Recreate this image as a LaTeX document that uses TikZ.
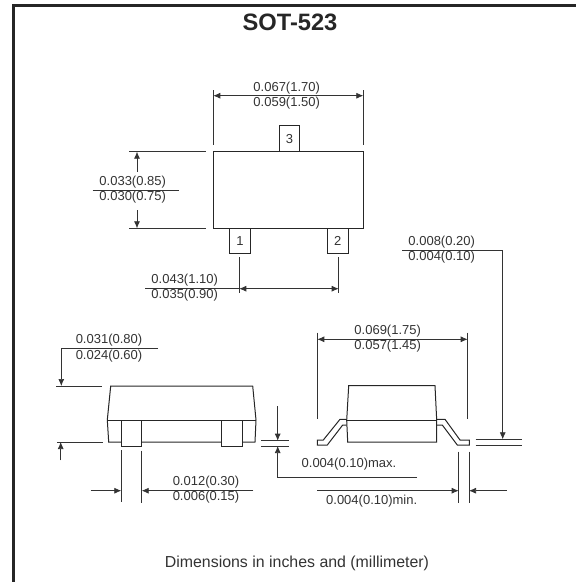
\documentclass[tikz,border=0pt]{standalone}
\usepackage{fontspec}
\setmainfont{Liberation Sans}
\usetikzlibrary{arrows.meta}
\usetikzlibrary{calc}
\tikzset{
	outline/.style={draw=black!85, line width=1pt},
	dimline/.style={draw=black!80, line width=0.7pt},
	dimarrow/.style={dimline, -{Latex[length=7pt,width=6pt]}},
	dimboth/.style={dimline, {Latex[length=7pt,width=6pt]}-{Latex[length=7pt,width=6pt]}},
	dimtext/.style={inner sep=0pt, font=\fontsize{13}{13}\selectfont, text=black!80},
	pinbox/.style={draw=black!85, line width=1pt, fill=white, inner sep=0pt, font=\fontsize{13}{13}\selectfont, text=black!80}
}
\begin{document}
\begin{tikzpicture}[x=1pt,y=-1pt]
		\useasboundingbox (0,0) rectangle (576,582);
		% frame and title
		\draw[line width=3pt, draw=black!85] (13,582) -- (13,5) -- (576,5);
		\node[inner sep=0pt, font=\bfseries\fontsize{23.7}{24}\selectfont, text=black!85] (title) at (290,22) {SOT-523};
		\node[inner sep=0pt, font=\fontsize{15.9}{16}\selectfont, text=black!80] (note) at (297,563) {Dimensions in inches and (millimeter)};

		% top view
		\node[outline, minimum width=150pt, minimum height=76.6pt, inner sep=0pt] (topbody) at (288.3,190) {};
		\node[pinbox, minimum width=20.4pt, minimum height=25.7pt] (pinc) at (289.5,138.8) {3};
		\node[pinbox, minimum width=20.6pt, minimum height=25.4pt] (pina) at (240,241) {1};
		\node[pinbox, minimum width=21pt, minimum height=25.4pt] (pinb) at (337.8,241) {2};

		\coordinate (wa1) at (213.3,90);
		\coordinate (wa2) at (213.3,144.7);
		\coordinate (wb1) at (363.3,90);
		\coordinate (wb2) at (363.3,144.7);
		\draw[dimline] (wa1) -- (wa2);
		\draw[dimline] (wb1) -- (wb2);
		\coordinate (wl) at (213.3,95.7);
		\coordinate (wr) at (363.3,95.7);
		\draw[dimboth] (wl) -- (wr);
		\node[dimtext] (wtop) at (286.7,88) {0.067(1.70)};
		\node[dimtext] (wbot) at (286.7,103) {0.059(1.50)};

		\coordinate (ha1) at (129.3,151.7);
		\coordinate (ha2) at (206,151.7);
		\coordinate (hb1) at (129.3,228.3);
		\coordinate (hb2) at (206,228.3);
		\draw[dimline] (ha1) -- (ha2);
		\draw[dimline] (hb1) -- (hb2);
		\coordinate (hu) at (137,171.7);
		\coordinate (hut) at (137,151.7);
		\coordinate (hd) at (137,210);
		\coordinate (hdt) at (137,228.3);
		\draw[dimarrow] (hu) -- (hut);
		\draw[dimarrow] (hd) -- (hdt);
		\coordinate (hf1) at (92.7,190);
		\coordinate (hf2) at (179.3,190);
		\draw[dimline] (hf1) -- (hf2);
		\node[dimtext] (htop) at (132.7,182) {0.033(0.85)};
		\node[dimtext] (hbot) at (132.7,197) {0.030(0.75)};

		\coordinate (pa1) at (239.3,257.3);
		\coordinate (pa2) at (239.3,292.7);
		\coordinate (pb1) at (338.7,257.3);
		\coordinate (pb2) at (338.7,292.7);
		\draw[dimline] (pa1) -- (pa2);
		\draw[dimline] (pb1) -- (pb2);
		\coordinate (pl) at (239.3,288.7);
		\coordinate (pr) at (338.7,288.7);
		\coordinate (pf) at (145,288.7);
		\draw[dimboth] (pl) -- (pr);
		\draw[dimline] (pf) -- (pl);
		\node[dimtext] (ptop) at (184.7,280.5) {0.043(1.10)};
		\node[dimtext] (pbot) at (184.7,295.5) {0.035(0.90)};

		% side view
		\draw[outline] (107.3,420) -- (110.7,386) -- (252.7,386) -- (256,420) -- (255,442) -- (108.7,442) -- cycle;
		\draw[outline] (107.3,420) -- (256,420);
		\node[outline, fill=white, minimum width=20.4pt, minimum height=26.3pt, inner sep=0pt] (lega) at (131.5,433.2) {};
		\node[outline, fill=white, minimum width=20.6pt, minimum height=26.3pt, inner sep=0pt] (legb) at (232,433.2) {};

		\coordinate (ta1) at (61.3,348.7);
		\coordinate (ta2) at (158,348.7);
		\coordinate (ta3) at (61.3,386);
		\draw[dimline] (ta2) -- (ta1);
		\draw[dimarrow] (ta1) -- (ta3);
		\coordinate (tb1) at (56,386);
		\coordinate (tb2) at (102,386);
		\draw[dimline] (tb1) -- (tb2);
		\coordinate (tc1) at (57.3,442);
		\coordinate (tc2) at (103,442);
		\draw[dimline] (tc1) -- (tc2);
		\coordinate (td1) at (60.7,460.3);
		\coordinate (td2) at (60.7,442);
		\draw[dimarrow] (td1) -- (td2);
		\node[dimtext] (ttop) at (109,340.5) {0.031(0.80)};
		\node[dimtext] (tbot) at (109,356) {0.024(0.60)};

		\coordinate (la1) at (121.3,450);
		\coordinate (la2) at (121.3,502);
		\coordinate (lb1) at (141.7,450.7);
		\coordinate (lb2) at (141.7,502.7);
		\draw[dimline] (la1) -- (la2);
		\draw[dimline] (lb1) -- (lb2);
		\coordinate (lc1) at (90.7,490.7);
		\coordinate (lc2) at (121.3,490.7);
		\coordinate (ld1) at (253.3,490.7);
		\coordinate (ld2) at (141.7,490.7);
		\draw[dimarrow] (lc1) -- (lc2);
		\draw[dimarrow] (ld1) -- (ld2);
		\node[dimtext] (ltop) at (206,482.5) {0.012(0.30)};
		\node[dimtext] (lbot) at (206,497.5) {0.006(0.15)};

		% standoff between the views
		\coordinate (sa1) at (261.3,440.7);
		\coordinate (sa2) at (289.3,440.7);
		\coordinate (sb1) at (261.3,446);
		\coordinate (sb2) at (289.3,446);
		\draw[dimline] (sa1) -- (sa2);
		\draw[dimline] (sb1) -- (sb2);
		\coordinate (sc1) at (277.7,406);
		\coordinate (sc2) at (277.7,440.7);
		\draw[dimarrow] (sc1) -- (sc2);
		\coordinate (sd1) at (417,477.7);
		\coordinate (sd2) at (277.7,477.7);
		\coordinate (sd3) at (277.7,446);
		\draw[dimarrow] (sd1) -- (sd2) -- (sd3);
		\node[dimtext] (smax) at (349,464.3) {0.004(0.10)max.};

		% end view
		\draw[outline] (346.7,420.3) -- (348.7,385.7) -- (435,385.7) -- (436.7,420.3) -- (436.7,442) -- (347.7,442) -- cycle;
		\draw[outline] (346.7,420.3) -- (436.7,420.3);
		\draw[outline] (346.7,419.3) -- (340,419.3) -- (323.3,440) -- (317.3,440) -- (317.3,445) -- (327.3,445) -- (342.7,425) -- (346.7,425);
		\draw[outline] (436.7,419.3) -- (445,419.3) -- (460,440) -- (469.3,440) -- (469.3,445) -- (457.3,445) -- (442.3,425) -- (436.7,425);

		\coordinate (ea1) at (317.3,332.7);
		\coordinate (ea2) at (317.3,418.7);
		\coordinate (eb1) at (467.7,332.7);
		\coordinate (eb2) at (467.7,418.7);
		\draw[dimline] (ea1) -- (ea2);
		\draw[dimline] (eb1) -- (eb2);
		\coordinate (el) at (317.3,339.3);
		\coordinate (er) at (467.7,339.3);
		\draw[dimboth] (el) -- (er);
		\node[dimtext] (etop) at (387.7,331) {0.069(1.75)};
		\node[dimtext] (ebot) at (387.7,346.5) {0.057(1.45)};

		\coordinate (fa1) at (458.7,451.7);
		\coordinate (fa2) at (458.7,503.3);
		\coordinate (fb1) at (469,451.7);
		\coordinate (fb2) at (469,503.3);
		\draw[dimline] (fa1) -- (fa2);
		\draw[dimline] (fb1) -- (fb2);
		\coordinate (fc1) at (317.3,490.7);
		\coordinate (fc2) at (458.7,490.7);
		\coordinate (fd1) at (506.7,490.7);
		\coordinate (fd2) at (469,490.7);
		\draw[dimarrow] (fc1) -- (fc2);
		\draw[dimarrow] (fd1) -- (fd2);
		\node[dimtext] (fmin) at (371.7,500.7) {0.004(0.10)min.};

		\coordinate (ga1) at (475.7,439.3);
		\coordinate (ga2) at (522.3,439.3);
		\coordinate (gb1) at (475.7,445);
		\coordinate (gb2) at (522.3,445);
		\draw[dimline] (ga1) -- (ga2);
		\draw[dimline] (gb1) -- (gb2);
		\coordinate (gc1) at (402.3,250);
		\coordinate (gc2) at (502.7,250);
		\coordinate (gc3) at (502.7,439.3);
		\draw[dimarrow] (gc1) -- (gc2) -- (gc3);
		\node[dimtext] (gtop) at (441.7,242.5) {0.008(0.20)};
		\node[dimtext] (gbot) at (441.7,256.7) {0.004(0.10)};
	\end{tikzpicture}
\end{document}
